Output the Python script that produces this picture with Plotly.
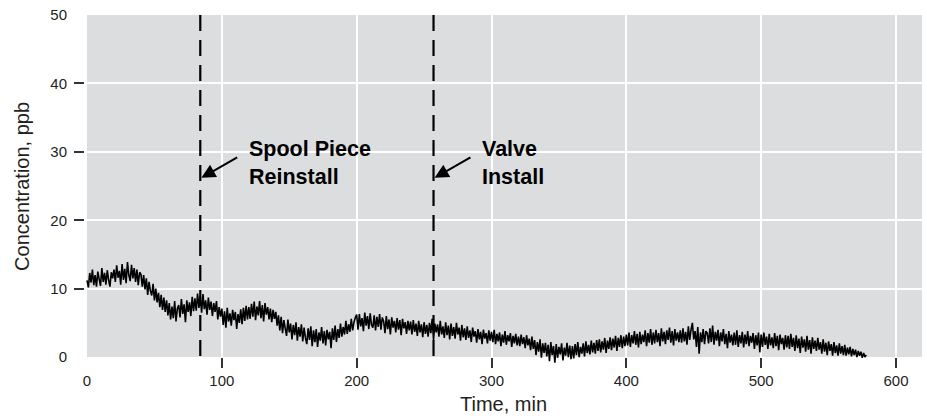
import plotly.graph_objects as go

conc = [
    11.2, 10.2, 12.3, 10.9, 12.8, 10.5, 12.0, 10.3, 12.5, 11.4, 10.4, 13.0, 11.0, 12.3, 10.6, 12.7, 11.3, 10.3, 12.4, 11.5,
    12.8, 11.0, 13.4, 11.6, 12.6, 10.6, 13.6, 11.3, 12.9, 10.8, 13.9, 12.0, 11.1, 13.5, 11.5, 13.0, 11.0, 12.8, 10.5, 12.4,
    12.1, 10.3, 12.0, 9.9, 11.5, 9.1, 11.0, 9.7, 9.0, 10.7, 8.3, 10.0, 8.0, 9.4, 7.3, 9.1, 6.9, 8.7, 6.6, 8.3,
    6.1, 7.9, 5.5, 7.4, 5.7, 8.2, 5.2, 7.1, 7.6, 5.8, 8.5, 6.3, 7.7, 5.1, 8.3, 6.6, 8.0, 6.0, 8.8, 6.7,
    8.6, 6.8, 9.3, 7.2, 8.9, 6.5, 9.2, 7.0, 8.3, 6.2, 8.7, 6.9, 8.1, 6.0, 7.9, 6.6, 8.2, 5.5, 7.3, 5.9,
    7.1, 4.7, 6.7, 4.3, 7.2, 5.2, 6.4, 4.6, 6.9, 5.4, 6.6, 4.1, 6.3, 5.0, 7.0, 4.8, 7.2, 5.3, 7.5, 5.5,
    7.3, 5.6, 7.8, 5.9, 8.1, 5.4, 7.4, 6.1, 8.2, 5.7, 7.6, 5.2, 7.9, 6.2, 7.3, 5.5, 7.1, 5.1, 6.9, 5.6,
    6.6, 4.6, 6.1, 3.9, 5.9, 3.5, 5.4, 4.2, 3.1, 5.5, 3.6, 4.9, 2.6, 4.7, 3.2, 5.1, 2.4, 4.4, 3.0, 4.8,
    2.3, 4.3, 2.8, 1.9, 4.2, 2.5, 4.5, 1.6, 3.9, 2.2, 4.1, 1.5, 3.6, 2.4, 4.4, 2.0, 3.8, 1.7, 4.0, 2.6,
    3.7, 1.3, 4.2, 2.5, 4.6, 2.2, 4.1, 2.8, 4.9, 3.0, 4.4, 3.3, 5.3, 3.4, 4.8, 3.7, 5.6, 3.9, 5.1, 5.8,
    6.2, 4.0, 6.3, 4.5, 5.7, 3.8, 6.5, 4.6, 6.0, 4.1, 6.4, 4.7, 4.3, 6.1, 3.9, 5.9, 4.4, 6.3, 4.0, 5.8,
    5.2, 3.5, 6.0, 4.1, 5.5, 3.3, 5.8, 4.3, 5.3, 3.6, 5.7, 4.0, 5.4, 3.2, 5.6, 4.2, 5.1, 3.4, 5.3, 3.9,
    5.2, 3.3, 5.4, 3.7, 4.9, 3.1, 5.3, 3.6, 4.8, 2.9, 5.1, 3.4, 4.7, 3.0, 5.0, 3.5, 5.6, 2.5, 4.9, 3.6,
    4.8, 3.0, 5.3, 3.3, 4.5, 2.8, 5.1, 3.2, 4.6, 2.6, 4.9, 3.1, 4.4, 2.7, 5.0, 3.3, 4.3, 2.4, 4.7, 2.9,
    4.2, 2.5, 4.5, 2.8, 3.9, 2.2, 4.3, 3.0, 3.8, 2.1, 4.1, 2.6, 3.7, 1.9, 4.0, 2.7, 3.5, 2.0, 3.9, 2.4,
    3.7, 2.2, 4.0, 1.9, 3.4, 2.3, 3.6, 1.6, 3.3, 2.1, 3.8, 1.8, 3.2, 2.3, 3.5, 1.5, 3.1, 2.0, 3.4, 1.7,
    3.0, 1.6, 3.3, 1.9, 2.9, 1.3, 3.2, 1.7, 2.7, 1.0, 3.0, 1.2, 2.5, 0.3, 2.2, 0.8, 2.6, -0.1, 2.0, 0.6,
    2.1, 0.1, 1.8, -0.6, 2.2, 0.3, 1.6, -0.8, 1.9, -0.1, 1.5, 0.4, 2.0, -0.5, 1.4, 0.2, 2.1, 0.0, 1.7, -0.3,
    1.6, -0.2, 1.9, 0.3, 2.2, 0.0, 1.5, 0.5, 2.0, 0.1, 2.3, 0.6, 1.8, 0.4, 2.4, 0.7, 2.1, 0.5, 2.5, 0.9,
    2.6, 0.7, 2.3, 1.1, 2.8, 0.6, 2.4, 1.2, 2.9, 1.0, 2.7, 1.4, 3.1, 0.9, 2.8, 1.5, 3.2, 1.3, 3.0, 1.6,
    3.3, 1.7, 3.6, 1.5, 3.2, 2.0, 3.8, 1.8, 3.4, 1.4, 3.7, 1.9, 3.3, 2.2, 3.9, 1.6, 3.5, 2.1, 4.1, 1.8,
    3.6, 2.0, 4.0, 2.2, 3.5, 1.6, 4.2, 2.3, 3.7, 1.9, 3.9, 2.5, 4.3, 2.1, 3.8, 1.7, 4.1, 2.4, 3.6, 2.2,
    3.9, 2.1, 4.2, 2.3, 3.7, 1.8, 4.5, 2.5, 4.0, 5.0, 2.6, 3.8, 1.5, 4.4, 0.5, 3.6, 2.2, 4.1, 1.9, 3.8,
    3.5, 2.0, 4.2, 2.2, 4.6, 1.8, 3.7, 2.4, 4.0, 1.6, 3.6, 2.3, 4.1, 1.9, 3.4, 1.3, 3.8, 2.1, 3.3, 1.7,
    3.6, 1.8, 3.9, 1.5, 3.2, 2.0, 3.7, 1.4, 3.3, 1.9, 3.8, 1.6, 3.1, 2.1, 3.5, 1.2, 3.2, 1.7, 3.6, 0.7,
    3.3, 1.5, 3.6, 1.8, 3.0, 1.2, 3.4, 1.7, 2.9, 1.3, 3.5, 1.6, 3.1, 1.0, 3.3, 1.9, 2.8, 1.1, 3.2, 1.4,
    3.1, 1.2, 3.4, 1.5, 2.8, 0.9, 3.2, 1.3, 2.7, 0.6, 3.0, 1.4, 2.6, 0.8, 3.1, 1.1, 2.5, 0.5, 2.9, 1.2,
    2.4, 0.9, 2.8, 1.1, 2.2, 0.5, 2.6, 0.8, 2.1, 0.3, 2.3, 0.9, 1.9, 0.2, 2.2, 0.6, 1.7, 0.2, 2.0, 0.5,
    1.6, 0.3, 1.8, 0.2, 1.4, 0.4, 1.5, 0.1, 1.2, 0.3, 1.1, 0.0, 0.9, 0.2, 0.8, -0.1, 0.6, 0.0, 0.3,
]
sample_interval_min = 1
time_min = [i * sample_interval_min for i in range(len(conc))]

# Events (min) and their labels
event_times = [84, 257]
event_labels = ["Spool Piece<br>Reinstall", "Valve<br>Install"]

# Axis ticks
x_label_vals = [0, 100, 200, 300, 400, 500, 600]
x_tick_vals = [100, 200, 300, 400, 500, 600]
y_label_vals = [0, 10, 20, 30, 40, 50]
y_tick_vals = [10, 20, 30, 40]

X_RANGE = [-1.5, 619.3]
Y_RANGE = [-1.3, 50]
Y_FREE_POS = (0 - Y_RANGE[0]) / (Y_RANGE[1] - Y_RANGE[0])

GRAY = "#DCDDDF"
INK = "#231f20"
FONT = "Liberation Sans, Arial, Helvetica, sans-serif"

fig = go.Figure()

fig.add_trace(go.Scatter(
    x=time_min, y=conc, mode="lines",
    line=dict(color="#000000", width=1.6, simplify=False),
    showlegend=False, hoverinfo="skip",
))

for t in event_times:
    fig.add_trace(go.Scatter(
        x=[t, t], y=[Y_RANGE[1], 0], mode="lines",
        line=dict(color="#000000", width=2.2, dash="16px,9px"),
        showlegend=False, hoverinfo="skip",
    ))

# dummy trace for the label axes
fig.add_trace(go.Scatter(x=[None], y=[None], xaxis="x2", yaxis="y2",
                         showlegend=False, hoverinfo="skip"))

# gray plotting field (0..50 ppb)
fig.add_shape(type="rect", xref="x", yref="y", x0=0, x1=X_RANGE[1], y0=0, y1=50,
              fillcolor=GRAY, line=dict(width=0), layer="below")

# arrows + labels
for t, lab in zip(event_times, event_labels):
    fig.add_annotation(x=t + 0.8, y=26.2, ax=t + 28.5, ay=29.3,
                       xref="x", yref="y", axref="x", ayref="y",
                       text="", showarrow=True, arrowhead=2, arrowsize=1.4,
                       arrowwidth=2, arrowcolor="#000000", standoff=0)
    fig.add_annotation(x=t + 34.5, y=28.4, xref="x", yref="y",
                       text="<b>" + lab + "</b>", showarrow=False,
                       xanchor="left", yanchor="middle", align="left",
                       font=dict(family=FONT, size=21.5, color="#000000"))

# axis titles
fig.add_annotation(x=0.5, y=-0.108, xref="paper", yref="paper",
                   text="Time, min", showarrow=False, xanchor="center", yanchor="middle",
                   font=dict(family=FONT, size=20, color=INK))
fig.add_annotation(x=-0.0753, y=0.513, xref="paper", yref="paper",
                   text="Concentration, ppb", showarrow=False, textangle=-90,
                   xanchor="center", yanchor="middle",
                   font=dict(family=FONT, size=20, color=INK))

fig.update_layout(
    width=927, height=416,
    margin=dict(l=85, r=5, t=15, b=50),
    paper_bgcolor="white", plot_bgcolor="white",
    font=dict(family=FONT, size=15, color=INK),
    showlegend=False,
    xaxis=dict(range=X_RANGE, tickmode="array", tickvals=x_tick_vals,
               showticklabels=False, ticks="outside", ticklen=10, tickwidth=1.5,
               tickcolor="#333333", showgrid=True, gridcolor="white", gridwidth=1.5,
               zeroline=False, showline=False, anchor="free", position=Y_FREE_POS),
    yaxis=dict(range=Y_RANGE, tickmode="array", tickvals=y_tick_vals,
               showticklabels=False, ticks="outside", ticklen=10, tickwidth=1.5,
               tickcolor="#333333", showgrid=True, gridcolor="white", gridwidth=1.5,
               zeroline=False, showline=False),
    xaxis2=dict(range=X_RANGE, overlaying="x", tickmode="array", tickvals=x_label_vals,
                ticks="outside", ticklen=10, tickcolor="rgba(0,0,0,0)",
                showgrid=False, zeroline=False, showline=False,
                anchor="free", position=Y_FREE_POS,
                tickfont=dict(family=FONT, size=15, color=INK)),
    yaxis2=dict(range=Y_RANGE, overlaying="y", tickmode="array", tickvals=y_label_vals,
                ticks="outside", ticklen=14, tickcolor="rgba(0,0,0,0)",
                showgrid=False, zeroline=False, showline=False,
                anchor="x2", side="left",
                tickfont=dict(family=FONT, size=15, color=INK)),
)

fig.write_html("out.html")
